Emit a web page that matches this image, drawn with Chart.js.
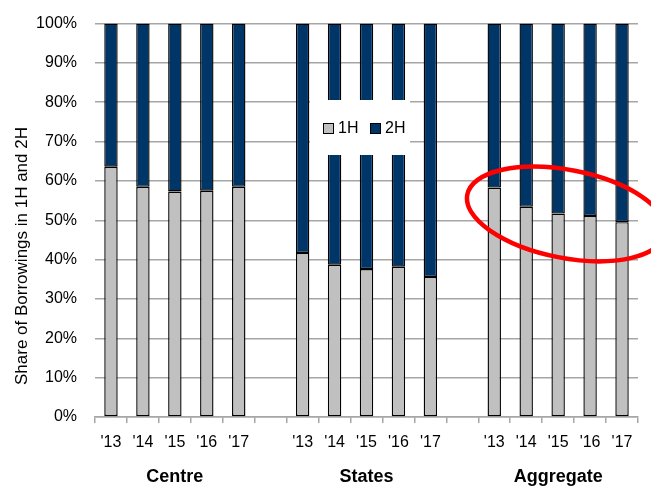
<!DOCTYPE html>
<html>
<head>
<meta charset="utf-8">
<script src="https://cdn.jsdelivr.net/npm/chart.js@4.4.1/dist/chart.umd.min.js"></script>
<style>
  html, body { margin: 0; padding: 0; background: #fff; }
  #wrap { width: 651px; height: 487px; }
</style>
</head>
<body>
<div id="wrap"><canvas id="shareChart" width="651" height="487"></canvas></div>
<script>
// Year labels per slot; empty slots separate the three groups
const categories = ["'13", "'14", "'15", "'16", "'17", "",
                    "'13", "'14", "'15", "'16", "'17", "",
                    "'13", "'14", "'15", "'16", "'17"];
const groups = ['Centre', 'States', 'Aggregate'];
const groupMiddle = [2, 8, 14];

// Share of borrowings (%) in each half
const firstHalf  = [63.6, 58.5, 57.3, 57.5, 58.5, null,
                    41.7, 38.7, 37.6, 38.2, 35.6, null,
                    58.3, 53.4, 51.7, 51.1, 49.5];
const secondHalf = [36.4, 41.5, 42.7, 42.5, 41.5, null,
                    58.3, 61.3, 62.4, 61.8, 64.4, null,
                    41.7, 46.6, 48.3, 48.9, 50.5];

const yTicks = [0, 10, 20, 30, 40, 50, 60, 70, 80, 90, 100];

const FONT = '"Liberation Sans", Arial, sans-serif';
const GRID = '#a6a6a6';

// Highlight around the aggregate bars (centre in data units, radii in px)
const highlight = { x: 14.26, y: 51.6, rx: 101, ry: 44, angle: 11 };

const overlayPlugin = {
    id: 'overlay',
    afterDraw(chart) {
        const ctx = chart.ctx;
        const xs = chart.scales.x, ys = chart.scales.y;
        ctx.save();

        // axis title
        ctx.save();
        ctx.translate(22, 256);
        ctx.rotate(-Math.PI / 2);
        ctx.font = '17px ' + FONT;
        ctx.fillStyle = '#000';
        ctx.textAlign = 'center';
        ctx.textBaseline = 'middle';
        ctx.fillText('Share of Borrowings in 1H and 2H', 0, 0);
        ctx.restore();

        // group names under the year labels
        ctx.font = 'bold 18px ' + FONT;
        ctx.fillStyle = '#000';
        ctx.textAlign = 'center';
        ctx.textBaseline = 'middle';
        groups.forEach((g, i) => {
            ctx.fillText(g, xs.getPixelForValue(groupMiddle[i]), 477);
        });

        // legend box sitting over the States bars
        ctx.fillStyle = '#fff';
        ctx.fillRect(310, 100, 100, 55);
        ctx.font = '16px ' + FONT;
        ctx.textAlign = 'left';
        let lx = 323;
        chart.data.datasets.forEach(ds => {
            ctx.fillStyle = ds.backgroundColor;
            ctx.fillRect(lx, 123, 10, 10);
            ctx.strokeStyle = '#000';
            ctx.lineWidth = 1;
            ctx.strokeRect(lx + 0.5, 123.5, 10, 10);
            ctx.fillStyle = '#000';
            ctx.fillText(ds.label, lx + 15, 129);
            lx += 47;
        });

        // red ellipse
        ctx.beginPath();
        ctx.ellipse(xs.getPixelForValue(highlight.x), ys.getPixelForValue(highlight.y),
                    highlight.rx, highlight.ry, highlight.angle * Math.PI / 180, 0, Math.PI * 2);
        ctx.strokeStyle = '#ff0000';
        ctx.lineWidth = 4.5;
        ctx.stroke();

        ctx.restore();
    }
};

new Chart(document.getElementById('shareChart'), {
    type: 'bar',
    data: {
        labels: categories,
        datasets: [
            {
                label: '1H',
                data: firstHalf,
                backgroundColor: '#c0c0c0',
                borderColor: '#000',
                borderWidth: 1.4,
                borderSkipped: false,
                barPercentage: 0.42,
                categoryPercentage: 1
            },
            {
                label: '2H',
                data: secondHalf,
                backgroundColor: '#003667',
                borderColor: '#000',
                borderWidth: 1.4,
                borderSkipped: false,
                barPercentage: 0.42,
                categoryPercentage: 1
            }
        ]
    },
    options: {
        responsive: false,
        animation: false,
        layout: { padding: { top: 23.5, right: 13, left: 0, bottom: 0 } },
        plugins: {
            legend: { display: false },
            tooltip: { enabled: false }
        },
        scales: {
            x: {
                stacked: true,
                afterFit: s => { s.height = 70; s.paddingLeft = 0; s.paddingRight = 0; },
                grid: { offset: true, drawOnChartArea: false, drawTicks: true, tickLength: 6, color: GRID, lineWidth: 1.5 },
                border: { color: GRID, width: 1.5 },
                ticks: { color: '#000', font: { family: FONT, size: 16 }, padding: 10, autoSkip: false, maxRotation: 0 }
            },
            y: {
                stacked: true,
                min: 0,
                max: 100,
                afterFit: s => { s.width = 95; s.paddingTop = 0; s.paddingBottom = 0; },
                afterBuildTicks: s => { s.ticks = yTicks.map(v => ({ value: v })); },
                grid: { color: GRID, lineWidth: 1.5, drawTicks: false },
                border: { display: false },
                ticks: { color: '#000', font: { family: FONT, size: 16 }, padding: 18, callback: v => v + '%' }
            }
        }
    },
    plugins: [overlayPlugin]
});
</script>
</body>
</html>
